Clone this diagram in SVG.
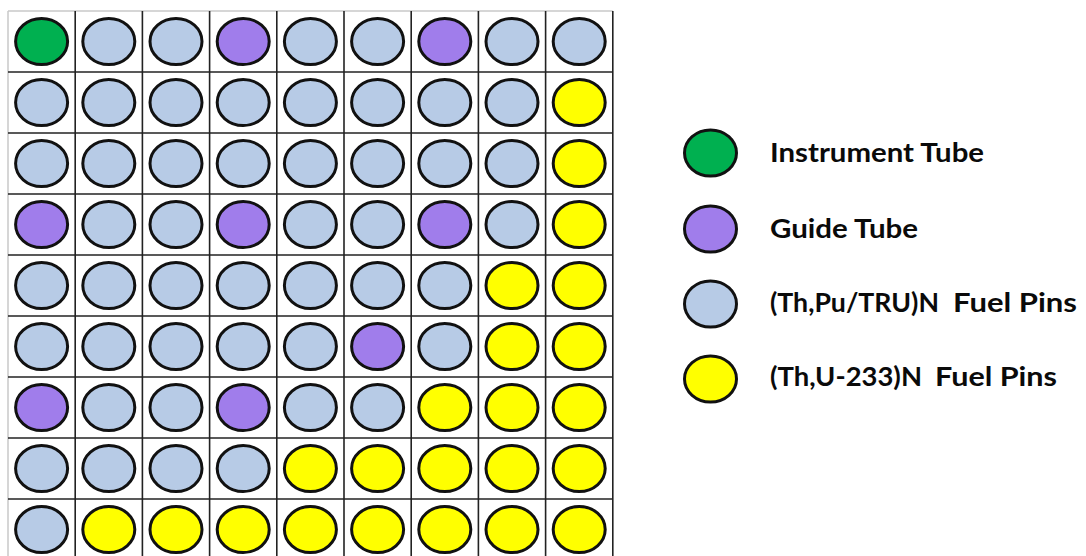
<svg xmlns="http://www.w3.org/2000/svg" width="1086" height="556" viewBox="0 0 1086 556">
<style>
.pin{stroke:#111;stroke-width:3}
.g{fill:#00B050}
.p{fill:#A07DEB}
.b{fill:#B7CBE6}
.y{fill:#FFFF00}
.gl{stroke:#222;stroke-width:1.6}
.ob{stroke:#c8c8c8;stroke-width:1.5}
.lbl{font-family:Lato,"Open Sans","Liberation Sans",sans-serif;font-weight:700;font-size:27px;fill:#0a0a0a}
</style>
<rect x="0" y="0" width="1086" height="556" fill="#fff"/>
<g id="grid">
<rect x="8" y="11" width="604.8" height="549" fill="#fff"/>
<line class="ob" x1="8" y1="11" x2="612.8" y2="11"/>
<line class="ob" x1="8" y1="11" x2="8" y2="560"/>
<line class="gl" x1="75.2" y1="11" x2="75.2" y2="560"/>
<line class="gl" x1="142.4" y1="11" x2="142.4" y2="560"/>
<line class="gl" x1="209.6" y1="11" x2="209.6" y2="560"/>
<line class="gl" x1="276.8" y1="11" x2="276.8" y2="560"/>
<line class="gl" x1="344" y1="11" x2="344" y2="560"/>
<line class="gl" x1="411.2" y1="11" x2="411.2" y2="560"/>
<line class="gl" x1="478.4" y1="11" x2="478.4" y2="560"/>
<line class="gl" x1="545.6" y1="11" x2="545.6" y2="560"/>
<line class="gl" x1="612.8" y1="11" x2="612.8" y2="560"/>
<line class="gl" x1="8" y1="72" x2="612.8" y2="72"/>
<line class="gl" x1="8" y1="133" x2="612.8" y2="133"/>
<line class="gl" x1="8" y1="194" x2="612.8" y2="194"/>
<line class="gl" x1="8" y1="255" x2="612.8" y2="255"/>
<line class="gl" x1="8" y1="316" x2="612.8" y2="316"/>
<line class="gl" x1="8" y1="377" x2="612.8" y2="377"/>
<line class="gl" x1="8" y1="438" x2="612.8" y2="438"/>
<line class="gl" x1="8" y1="499" x2="612.8" y2="499"/>
</g>
<defs>
<ellipse id="e" cx="0" cy="0" rx="26" ry="23"/>
</defs>
<g id="pins">
<g id="r0">
<use href="#e" class="pin g" x="41.6" y="41.5"/>
<use href="#e" class="pin b" x="108.8" y="41.5"/>
<use href="#e" class="pin b" x="176" y="41.5"/>
<use href="#e" class="pin p" x="243.2" y="41.5"/>
<use href="#e" class="pin b" x="310.4" y="41.5"/>
<use href="#e" class="pin b" x="377.6" y="41.5"/>
<use href="#e" class="pin p" x="444.8" y="41.5"/>
<use href="#e" class="pin b" x="512" y="41.5"/>
<use href="#e" class="pin b" x="579.2" y="41.5"/>
</g>
<g id="r1">
<use href="#e" class="pin b" x="41.6" y="102.5"/>
<use href="#e" class="pin b" x="108.8" y="102.5"/>
<use href="#e" class="pin b" x="176" y="102.5"/>
<use href="#e" class="pin b" x="243.2" y="102.5"/>
<use href="#e" class="pin b" x="310.4" y="102.5"/>
<use href="#e" class="pin b" x="377.6" y="102.5"/>
<use href="#e" class="pin b" x="444.8" y="102.5"/>
<use href="#e" class="pin b" x="512" y="102.5"/>
<use href="#e" class="pin y" x="579.2" y="102.5"/>
</g>
<g id="r2">
<use href="#e" class="pin b" x="41.6" y="163.5"/>
<use href="#e" class="pin b" x="108.8" y="163.5"/>
<use href="#e" class="pin b" x="176" y="163.5"/>
<use href="#e" class="pin b" x="243.2" y="163.5"/>
<use href="#e" class="pin b" x="310.4" y="163.5"/>
<use href="#e" class="pin b" x="377.6" y="163.5"/>
<use href="#e" class="pin b" x="444.8" y="163.5"/>
<use href="#e" class="pin b" x="512" y="163.5"/>
<use href="#e" class="pin y" x="579.2" y="163.5"/>
</g>
<g id="r3">
<use href="#e" class="pin p" x="41.6" y="224.5"/>
<use href="#e" class="pin b" x="108.8" y="224.5"/>
<use href="#e" class="pin b" x="176" y="224.5"/>
<use href="#e" class="pin p" x="243.2" y="224.5"/>
<use href="#e" class="pin b" x="310.4" y="224.5"/>
<use href="#e" class="pin b" x="377.6" y="224.5"/>
<use href="#e" class="pin p" x="444.8" y="224.5"/>
<use href="#e" class="pin b" x="512" y="224.5"/>
<use href="#e" class="pin y" x="579.2" y="224.5"/>
</g>
<g id="r4">
<use href="#e" class="pin b" x="41.6" y="285.5"/>
<use href="#e" class="pin b" x="108.8" y="285.5"/>
<use href="#e" class="pin b" x="176" y="285.5"/>
<use href="#e" class="pin b" x="243.2" y="285.5"/>
<use href="#e" class="pin b" x="310.4" y="285.5"/>
<use href="#e" class="pin b" x="377.6" y="285.5"/>
<use href="#e" class="pin b" x="444.8" y="285.5"/>
<use href="#e" class="pin y" x="512" y="285.5"/>
<use href="#e" class="pin y" x="579.2" y="285.5"/>
</g>
<g id="r5">
<use href="#e" class="pin b" x="41.6" y="346.5"/>
<use href="#e" class="pin b" x="108.8" y="346.5"/>
<use href="#e" class="pin b" x="176" y="346.5"/>
<use href="#e" class="pin b" x="243.2" y="346.5"/>
<use href="#e" class="pin b" x="310.4" y="346.5"/>
<use href="#e" class="pin p" x="377.6" y="346.5"/>
<use href="#e" class="pin b" x="444.8" y="346.5"/>
<use href="#e" class="pin y" x="512" y="346.5"/>
<use href="#e" class="pin y" x="579.2" y="346.5"/>
</g>
<g id="r6">
<use href="#e" class="pin p" x="41.6" y="407.5"/>
<use href="#e" class="pin b" x="108.8" y="407.5"/>
<use href="#e" class="pin b" x="176" y="407.5"/>
<use href="#e" class="pin p" x="243.2" y="407.5"/>
<use href="#e" class="pin b" x="310.4" y="407.5"/>
<use href="#e" class="pin b" x="377.6" y="407.5"/>
<use href="#e" class="pin y" x="444.8" y="407.5"/>
<use href="#e" class="pin y" x="512" y="407.5"/>
<use href="#e" class="pin y" x="579.2" y="407.5"/>
</g>
<g id="r7">
<use href="#e" class="pin b" x="41.6" y="468.5"/>
<use href="#e" class="pin b" x="108.8" y="468.5"/>
<use href="#e" class="pin b" x="176" y="468.5"/>
<use href="#e" class="pin b" x="243.2" y="468.5"/>
<use href="#e" class="pin y" x="310.4" y="468.5"/>
<use href="#e" class="pin y" x="377.6" y="468.5"/>
<use href="#e" class="pin y" x="444.8" y="468.5"/>
<use href="#e" class="pin y" x="512" y="468.5"/>
<use href="#e" class="pin y" x="579.2" y="468.5"/>
</g>
<g id="r8">
<use href="#e" class="pin b" x="41.6" y="529.5"/>
<use href="#e" class="pin y" x="108.8" y="529.5"/>
<use href="#e" class="pin y" x="176" y="529.5"/>
<use href="#e" class="pin y" x="243.2" y="529.5"/>
<use href="#e" class="pin y" x="310.4" y="529.5"/>
<use href="#e" class="pin y" x="377.6" y="529.5"/>
<use href="#e" class="pin y" x="444.8" y="529.5"/>
<use href="#e" class="pin y" x="512" y="529.5"/>
<use href="#e" class="pin y" x="579.2" y="529.5"/>
</g>
</g>
<g id="legend">
<g id="leg-instrument">
<use href="#e" class="pin g" x="710.5" y="153"/>
<text class="lbl" x="770" y="162" textLength="214" lengthAdjust="spacingAndGlyphs">Instrument Tube</text>
</g>
<g id="leg-guide">
<use href="#e" class="pin p" x="710.5" y="229"/>
<text class="lbl" x="770" y="238" textLength="148" lengthAdjust="spacingAndGlyphs">Guide Tube</text>
</g>
<g id="leg-thpu">
<use href="#e" class="pin b" x="710.5" y="304"/>
<text class="lbl" y="312"><tspan x="770" textLength="169" lengthAdjust="spacingAndGlyphs">(Th,Pu/TRU)N</tspan><tspan x="953" textLength="124" lengthAdjust="spacingAndGlyphs">Fuel Pins</tspan></text>
</g>
<g id="leg-thu">
<use href="#e" class="pin y" x="710.5" y="379"/>
<text class="lbl" y="386"><tspan x="770" textLength="152" lengthAdjust="spacingAndGlyphs">(Th,U-233)N</tspan><tspan x="935" textLength="122" lengthAdjust="spacingAndGlyphs">Fuel Pins</tspan></text>
</g>
</g>
</svg>
